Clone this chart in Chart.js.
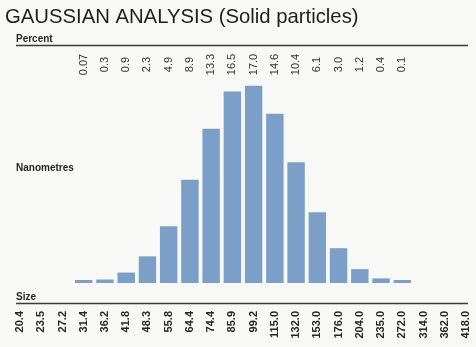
<!DOCTYPE html>
<html>
<head>
<meta charset="utf-8">
<title>Gaussian analysis</title>
<script src="https://cdn.jsdelivr.net/npm/chart.js@4.4.1/dist/chart.umd.min.js"></script>
<style>
  html, body { margin: 0; padding: 0; background: #f8f8f6; }
  #wrap { width: 476px; height: 347px; position: relative; }
</style>
</head>
<body>
<div id="wrap"><canvas id="chart"></canvas></div>
<script>
// particle size classes (nm)
const sizes = [
  "20.4", "23.5", "27.2", "31.4", "36.2", "41.8", "48.3", "55.8", "64.4", "74.4", "85.9",
  "99.2", "115.0", "132.0", "153.0", "176.0", "204.0", "235.0", "272.0", "314.0", "362.0", "418.0"
];

// share of particles per size class (%)
const percents = [
  null, null, null, 0.07, 0.3, 0.9, 2.3, 4.9, 8.9, 13.3, 16.5,
  17.0, 14.6, 10.4, 6.1, 3.0, 1.2, 0.4, 0.1, null, null, null
];

const ink = "#262626";
const barColor = "#7b9fc6";

function fmtPercent(v) {
  return v < 0.1 ? v.toFixed(2) : v.toFixed(1);
}

// title, side captions, rules and the percent row above the bars
const decorations = {
  id: "decorations",
  afterDraw(chart) {
    const ctx = chart.ctx;
    const x = chart.scales.x;
    ctx.save();
    ctx.fillStyle = "#1e1e1e";
    ctx.font = "20.3px 'Liberation Sans', Arial, sans-serif";
    ctx.textAlign = "left";
    ctx.textBaseline = "alphabetic";
    ctx.fillText("GAUSSIAN ANALYSIS (Solid particles)", 5, 23);

    ctx.fillStyle = ink;
    ctx.font = "bold 10px 'Liberation Sans', Arial, sans-serif";
    ctx.fillText("Percent", 16, 42);
    ctx.fillText("Nanometres", 16, 171);
    ctx.fillText("Size", 16, 300);

    ctx.strokeStyle = "#3a3a3a";
    ctx.lineWidth = 1.6;
    ctx.beginPath();
    ctx.moveTo(16, 45.5);
    ctx.lineTo(468, 45.5);
    ctx.moveTo(16, 303.5);
    ctx.lineTo(468, 303.5);
    ctx.stroke();

    ctx.fillStyle = "#333";
    ctx.font = "11px 'Liberation Sans', Arial, sans-serif";
    ctx.textAlign = "center";
    ctx.textBaseline = "middle";
    percents.forEach((v, i) => {
      if (v === null) return;
      ctx.save();
      ctx.translate(x.getPixelForValue(i), 64.5);
      ctx.rotate(-Math.PI / 2);
      ctx.fillText(fmtPercent(v), 0, 0);
      ctx.restore();
    });
    ctx.restore();
  }
};

new Chart(document.getElementById("chart"), {
  type: "bar",
  data: {
    labels: sizes,
    datasets: [{
      data: percents,
      backgroundColor: barColor,
      borderWidth: 0,
      barPercentage: 0.82,
      categoryPercentage: 1,
      minBarLength: 3
    }]
  },
  options: {
    responsive: true,
    maintainAspectRatio: false,
    animation: false,
    layout: { padding: { top: 80, left: 20, right: 10, bottom: 0 } },
    plugins: {
      legend: { display: false },
      tooltip: { enabled: false }
    },
    scales: {
      x: {
        offset: false,
        grid: { display: false, drawTicks: false },
        border: { display: false },
        ticks: {
          autoSkip: false,
          minRotation: 90,
          maxRotation: 90,
          padding: 28,
          color: ink,
          font: { family: "'Liberation Sans', Arial, sans-serif", size: 11, weight: "bold" }
        },
        afterFit(scale) {
          scale.height = 64;
          scale.paddingLeft = 0;
          scale.paddingRight = 0;
        }
      },
      y: {
        display: false,
        min: 0,
        max: 17.5
      }
    }
  },
  plugins: [decorations]
});
</script>
</body>
</html>
